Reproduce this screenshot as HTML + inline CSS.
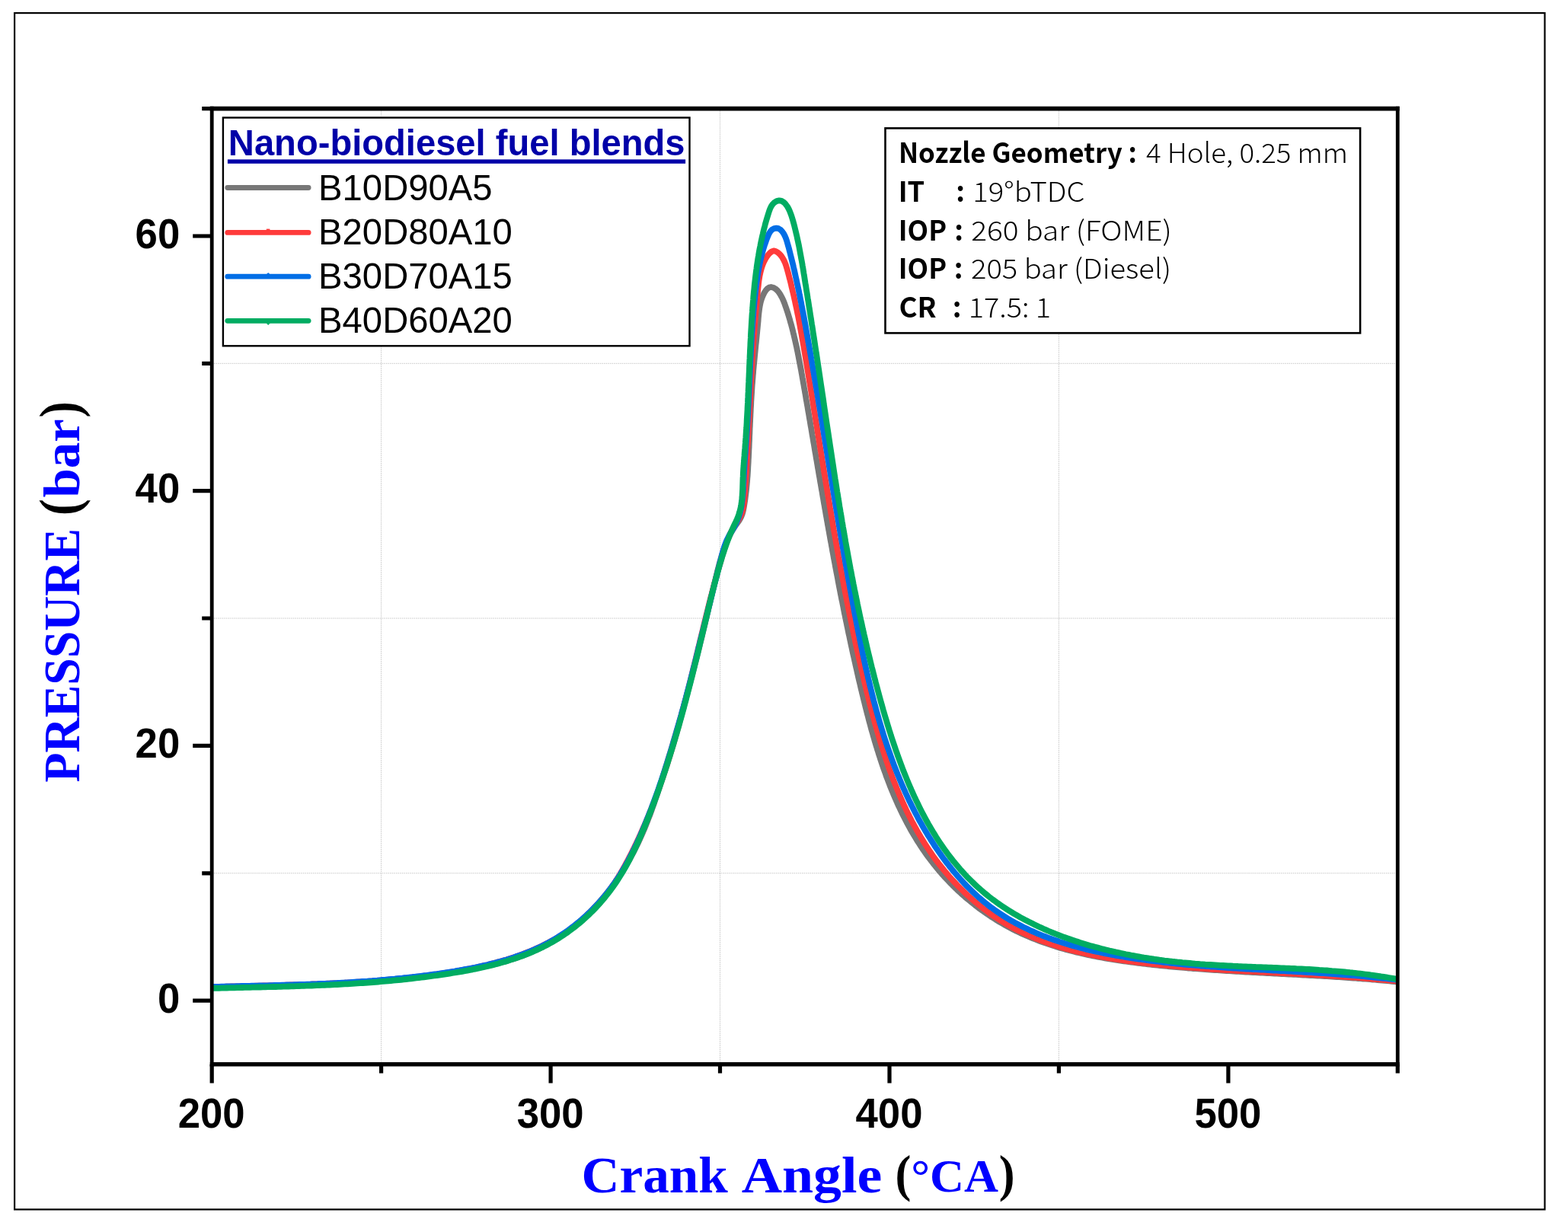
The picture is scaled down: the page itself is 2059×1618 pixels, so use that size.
<!DOCTYPE html>
<html><head><meta charset="utf-8"><title>Cylinder pressure vs crank angle</title><style>html,body{margin:0;padding:0;background:#fff}svg{display:block}</style></head><body>
<svg width="2059" height="1618" viewBox="0 0 2059 1618">
<rect width="2059" height="1618" fill="#fff"/>
<rect x="19.1" y="17.1" width="2009.4" height="1571.3" fill="none" stroke="#000" stroke-width="2.2"/>
<path d="M500.6,142.6V1397.8M945.5,142.6V1397.8M1390.4,142.6V1397.8M278.2,1146.8H1835.3M278.2,812.0H1835.3M278.2,477.3H1835.3" stroke="#c6c6c6" stroke-width="1" stroke-dasharray="1.5 1.1" fill="none"/>
<defs><clipPath id="pc"><rect x="278.2" y="142.6" width="1557.1" height="1255.1"/></clipPath></defs>
<g clip-path="url(#pc)" fill="none" stroke-width="7.8" stroke-linejoin="round" stroke-linecap="round">
<path stroke="#777777" d="M280.7,1296.8 283.9,1296.7 287.1,1296.7 290.3,1296.6 293.5,1296.6 296.7,1296.5 299.9,1296.5 303.1,1296.4 306.3,1296.4 309.5,1296.3 312.7,1296.3 315.9,1296.2 319.1,1296.2 322.3,1296.1 325.5,1296.1 328.7,1296.0 331.8,1295.9 335.0,1295.9 338.2,1295.8 341.3,1295.7 344.5,1295.7 347.7,1295.6 350.8,1295.5 354.0,1295.4 357.1,1295.4 360.3,1295.3 363.4,1295.2 366.6,1295.1 369.7,1295.0 372.9,1294.9 376.0,1294.8 379.2,1294.7 382.3,1294.6 385.4,1294.5 388.6,1294.4 391.7,1294.3 394.8,1294.2 398.0,1294.1 401.1,1294.0 404.2,1293.8 407.4,1293.7 410.5,1293.6 413.6,1293.4 416.7,1293.3 419.9,1293.2 423.0,1293.0 426.1,1292.9 429.2,1292.7 432.3,1292.6 435.5,1292.4 438.6,1292.2 441.7,1292.1 444.8,1291.9 447.9,1291.7 451.0,1291.5 454.2,1291.3 457.3,1291.1 460.4,1290.9 463.5,1290.7 466.6,1290.5 469.7,1290.3 472.8,1290.1 476.0,1289.8 479.1,1289.6 482.2,1289.4 485.3,1289.1 488.4,1288.9 491.5,1288.6 494.6,1288.4 497.8,1288.1 500.9,1287.8 504.0,1287.6 507.1,1287.3 510.2,1287.0 513.4,1286.7 516.5,1286.4 519.6,1286.1 522.7,1285.8 525.8,1285.5 529.0,1285.1 532.1,1284.8 535.2,1284.5 538.3,1284.1 541.5,1283.8 544.6,1283.4 547.7,1283.1 550.9,1282.7 554.0,1282.3 557.1,1281.9 560.3,1281.5 563.4,1281.1 566.6,1280.7 569.7,1280.3 572.9,1279.9 576.0,1279.4 579.2,1279.0 582.3,1278.6 585.5,1278.1 588.6,1277.6 591.8,1277.2 594.9,1276.7 598.1,1276.2 601.3,1275.7 604.4,1275.2 607.6,1274.7 610.8,1274.1 613.9,1273.6 617.1,1273.0 620.2,1272.5 623.4,1271.9 626.5,1271.3 629.7,1270.6 632.8,1270.0 635.9,1269.3 639.1,1268.6 642.2,1267.9 645.3,1267.2 648.4,1266.5 651.5,1265.7 654.6,1264.9 657.6,1264.1 660.7,1263.3 663.8,1262.4 666.8,1261.5 669.8,1260.6 672.8,1259.7 675.8,1258.7 678.8,1257.7 681.8,1256.6 684.8,1255.6 687.7,1254.5 690.6,1253.3 693.5,1252.2 696.4,1251.0 699.3,1249.7 702.1,1248.5 705.0,1247.2 707.8,1245.8 710.6,1244.4 713.3,1243.0 716.1,1241.5 718.8,1240.1 721.5,1238.5 724.2,1237.0 726.9,1235.4 729.5,1233.7 732.1,1232.1 734.7,1230.4 737.3,1228.6 739.9,1226.9 742.4,1225.1 744.9,1223.2 747.4,1221.4 749.9,1219.5 752.3,1217.5 754.8,1215.6 757.2,1213.6 759.6,1211.6 761.9,1209.5 764.3,1207.5 766.6,1205.4 768.9,1203.3 771.1,1201.1 773.4,1198.9 775.6,1196.7 777.8,1194.5 780.0,1192.2 782.1,1190.0 784.3,1187.6 786.4,1185.3 788.4,1183.0 790.5,1180.6 792.5,1178.2 794.6,1175.8 796.5,1173.3 798.5,1170.9 800.4,1168.4 802.4,1165.9 804.2,1163.3 806.1,1160.8 808.0,1158.2 809.8,1155.7 811.6,1153.1 813.3,1150.4 815.1,1147.8 816.8,1145.1 818.5,1142.5 820.1,1139.8 821.8,1137.1 823.4,1134.4 825.0,1131.6 826.6,1128.9 828.1,1126.1 829.6,1123.4 831.1,1120.6 832.6,1117.8 834.0,1115.0 835.4,1112.1 836.8,1109.3 838.2,1106.5 839.5,1103.6 840.8,1100.7 842.1,1097.9 843.4,1095.0 844.6,1092.1 845.9,1089.2 847.1,1086.3 848.3,1083.3 849.4,1080.4 850.6,1077.5 851.7,1074.5 852.9,1071.6 854.0,1068.6 855.1,1065.7 856.1,1062.7 857.2,1059.7 858.3,1056.7 859.3,1053.7 860.3,1050.8 861.3,1047.8 862.4,1044.8 863.4,1041.8 864.3,1038.8 865.3,1035.7 866.3,1032.7 867.2,1029.7 868.2,1026.7 869.2,1023.7 870.1,1020.7 871.0,1017.7 872.0,1014.6 872.9,1011.6 873.8,1008.6 874.8,1005.6 875.7,1002.6 876.6,999.6 877.5,996.5 878.4,993.5 879.4,990.5 880.3,987.5 881.2,984.5 882.1,981.5 883.0,978.5 883.9,975.4 884.8,972.4 885.7,969.4 886.6,966.4 887.5,963.4 888.3,960.4 889.2,957.4 890.1,954.4 891.0,951.3 891.9,948.3 892.7,945.3 893.6,942.3 894.5,939.3 895.3,936.3 896.2,933.2 897.0,930.2 897.9,927.2 898.7,924.2 899.6,921.1 900.4,918.1 901.3,915.1 902.1,912.1 902.9,909.0 903.7,906.0 904.6,903.0 905.4,900.0 906.2,896.9 907.0,893.9 907.8,890.8 908.6,887.8 909.4,884.8 910.2,881.7 911.0,878.7 911.8,875.6 912.5,872.6 913.3,869.5 914.1,866.5 914.9,863.4 915.6,860.4 916.4,857.3 917.2,854.3 917.9,851.2 918.7,848.1 919.4,845.1 920.2,842.0 920.9,838.9 921.7,835.9 922.4,832.8 923.2,829.7 923.9,826.7 924.6,823.6 925.4,820.5 926.1,817.5 926.8,814.4 927.6,811.3 928.3,808.2 929.0,805.2 929.8,802.1 930.5,799.0 931.2,795.9 932.0,792.9 932.7,789.8 933.4,786.7 934.2,783.6 934.9,780.5 935.6,777.5 936.3,774.4 937.1,771.3 937.8,768.2 938.5,765.2 939.3,762.1 940.0,759.0 940.8,755.9 941.5,752.8 942.2,749.8 943.0,746.7 943.8,743.6 944.6,740.6 945.4,737.5 946.3,734.5 947.1,731.5 948.0,728.5 949.0,725.5 950.0,722.5 951.1,719.6 952.1,716.7 953.3,713.7 954.5,710.9 955.8,708.0 957.1,705.2 958.5,702.4 960.0,699.6 961.6,696.9 963.3,694.2 965.0,691.5 966.8,688.9 968.7,686.3 970.5,683.7 972.1,681.0 973.5,678.2 974.6,675.3 975.5,672.3 976.2,669.2 976.8,666.1 977.3,662.9 977.8,659.8 978.3,656.7 978.7,653.6 979.1,650.4 979.5,647.3 979.9,644.2 980.2,641.1 980.5,637.9 980.8,634.8 981.1,631.7 981.3,628.6 981.6,625.4 981.8,622.3 982.0,619.2 982.2,616.0 982.3,612.9 982.5,609.7 982.7,606.6 982.8,603.4 983.0,600.3 983.1,597.2 983.3,594.0 983.4,590.8 983.6,587.7 983.7,584.5 983.8,581.4 984.0,578.2 984.1,575.0 984.2,571.9 984.4,568.7 984.5,565.6 984.6,562.4 984.8,559.2 984.9,556.1 985.1,552.9 985.2,549.7 985.4,546.6 985.5,543.4 985.7,540.2 985.8,537.1 986.0,533.9 986.2,530.8 986.3,527.6 986.5,524.5 986.7,521.3 986.9,518.2 987.1,515.0 987.3,511.9 987.5,508.7 987.7,505.6 988.0,502.5 988.2,499.4 988.5,496.2 988.7,493.1 989.0,490.0 989.2,486.9 989.5,483.8 989.8,480.7 990.1,477.6 990.4,474.5 990.7,471.3 991.0,468.2 991.3,465.1 991.6,462.0 991.9,458.9 992.2,455.8 992.5,452.7 992.9,449.6 993.2,446.4 993.5,443.3 993.8,440.2 994.1,437.1 994.4,433.9 994.7,430.8 995.0,427.6 995.3,424.5 995.6,421.3 995.8,418.1 996.1,414.9 996.4,411.7 996.8,408.6 997.2,405.4 997.7,402.3 998.3,399.2 999.0,396.1 999.9,393.1 1001.0,390.1 1002.3,387.2 1003.7,384.3 1005.5,381.6 1007.5,379.2 1009.8,377.6 1012.5,377.0 1015.5,377.7 1018.3,379.3 1020.8,381.5 1022.9,384.1 1024.7,386.9 1026.3,389.8 1027.8,392.7 1029.0,395.6 1030.2,398.5 1031.2,401.4 1032.2,404.3 1033.2,407.2 1034.2,410.2 1035.1,413.2 1036.0,416.1 1036.9,419.1 1037.7,422.1 1038.6,425.1 1039.4,428.1 1040.2,431.1 1041.0,434.2 1041.7,437.2 1042.5,440.3 1043.2,443.3 1043.9,446.4 1044.6,449.5 1045.3,452.5 1046.0,455.6 1046.6,458.7 1047.3,461.8 1047.9,464.9 1048.5,468.0 1049.1,471.2 1049.7,474.3 1050.3,477.4 1050.9,480.5 1051.5,483.7 1052.1,486.8 1052.6,489.9 1053.2,493.1 1053.7,496.2 1054.3,499.3 1054.8,502.5 1055.4,505.6 1055.9,508.7 1056.5,511.9 1057.0,515.0 1057.6,518.1 1058.1,521.2 1058.6,524.4 1059.2,527.5 1059.7,530.6 1060.3,533.7 1060.8,536.9 1061.3,540.0 1061.9,543.1 1062.4,546.2 1062.9,549.3 1063.5,552.5 1064.0,555.6 1064.5,558.7 1065.1,561.8 1065.6,564.9 1066.1,568.0 1066.6,571.1 1067.2,574.3 1067.7,577.4 1068.2,580.5 1068.8,583.6 1069.3,586.7 1069.8,589.8 1070.3,592.9 1070.9,596.0 1071.4,599.1 1071.9,602.2 1072.5,605.3 1073.0,608.4 1073.5,611.5 1074.0,614.6 1074.6,617.7 1075.1,620.8 1075.6,623.9 1076.2,627.0 1076.7,630.1 1077.2,633.2 1077.8,636.3 1078.3,639.4 1078.8,642.5 1079.4,645.5 1079.9,648.6 1080.4,651.7 1081.0,654.8 1081.5,657.9 1082.0,661.0 1082.6,664.1 1083.1,667.2 1083.7,670.3 1084.2,673.3 1084.7,676.4 1085.3,679.5 1085.8,682.6 1086.4,685.7 1086.9,688.8 1087.5,691.9 1088.0,694.9 1088.6,698.0 1089.1,701.1 1089.7,704.2 1090.2,707.3 1090.8,710.4 1091.4,713.4 1091.9,716.5 1092.5,719.6 1093.0,722.7 1093.6,725.8 1094.2,728.9 1094.7,731.9 1095.3,735.0 1095.9,738.1 1096.5,741.2 1097.0,744.3 1097.6,747.3 1098.2,750.4 1098.8,753.5 1099.4,756.6 1100.0,759.7 1100.5,762.7 1101.1,765.8 1101.7,768.9 1102.3,772.0 1102.9,775.1 1103.5,778.2 1104.1,781.2 1104.7,784.3 1105.3,787.4 1106.0,790.5 1106.6,793.6 1107.2,796.6 1107.8,799.7 1108.4,802.8 1109.0,805.9 1109.7,809.0 1110.3,812.1 1110.9,815.1 1111.6,818.2 1112.2,821.3 1112.9,824.4 1113.5,827.5 1114.1,830.6 1114.8,833.6 1115.5,836.7 1116.1,839.8 1116.8,842.9 1117.4,846.0 1118.1,849.1 1118.8,852.2 1119.4,855.2 1120.1,858.3 1120.8,861.4 1121.5,864.5 1122.2,867.6 1122.9,870.7 1123.6,873.8 1124.3,876.9 1125.0,880.0 1125.7,883.1 1126.4,886.2 1127.1,889.3 1127.8,892.3 1128.5,895.4 1129.3,898.5 1130.0,901.6 1130.7,904.7 1131.5,907.8 1132.2,910.9 1133.0,914.0 1133.7,917.1 1134.5,920.2 1135.3,923.3 1136.0,926.4 1136.8,929.5 1137.6,932.6 1138.4,935.7 1139.2,938.8 1140.0,941.9 1140.8,945.0 1141.6,948.0 1142.5,951.1 1143.3,954.2 1144.1,957.3 1145.0,960.3 1145.9,963.4 1146.7,966.5 1147.6,969.5 1148.5,972.6 1149.4,975.6 1150.3,978.7 1151.3,981.7 1152.2,984.8 1153.2,987.8 1154.1,990.8 1155.1,993.9 1156.1,996.9 1157.1,999.9 1158.1,1002.9 1159.1,1005.9 1160.1,1008.9 1161.2,1011.9 1162.3,1014.8 1163.3,1017.8 1164.4,1020.8 1165.5,1023.7 1166.7,1026.7 1167.8,1029.6 1168.9,1032.5 1170.1,1035.5 1171.3,1038.4 1172.5,1041.3 1173.7,1044.2 1174.9,1047.1 1176.2,1049.9 1177.5,1052.8 1178.7,1055.7 1180.0,1058.5 1181.4,1061.3 1182.7,1064.2 1184.1,1067.0 1185.4,1069.8 1186.8,1072.6 1188.2,1075.3 1189.7,1078.1 1191.1,1080.9 1192.6,1083.6 1194.1,1086.3 1195.6,1089.1 1197.1,1091.8 1198.7,1094.5 1200.3,1097.1 1201.9,1099.8 1203.5,1102.5 1205.1,1105.1 1206.8,1107.7 1208.5,1110.3 1210.2,1112.9 1211.9,1115.5 1213.7,1118.1 1215.5,1120.6 1217.3,1123.2 1219.1,1125.7 1221.0,1128.2 1222.9,1130.7 1224.8,1133.1 1226.7,1135.6 1228.7,1138.0 1230.6,1140.4 1232.6,1142.9 1234.7,1145.2 1236.7,1147.6 1238.8,1150.0 1240.9,1152.3 1243.1,1154.6 1245.3,1156.9 1247.4,1159.2 1249.7,1161.4 1251.9,1163.7 1254.2,1165.9 1256.4,1168.1 1258.8,1170.3 1261.1,1172.4 1263.4,1174.5 1265.8,1176.6 1268.2,1178.7 1270.6,1180.8 1273.1,1182.8 1275.5,1184.8 1278.0,1186.8 1280.5,1188.8 1283.0,1190.7 1285.5,1192.7 1288.1,1194.5 1290.7,1196.4 1293.3,1198.2 1295.9,1200.1 1298.5,1201.8 1301.1,1203.6 1303.8,1205.3 1306.5,1207.0 1309.1,1208.7 1311.8,1210.3 1314.6,1211.9 1317.3,1213.5 1320.0,1215.1 1322.8,1216.6 1325.6,1218.1 1328.3,1219.5 1331.1,1221.0 1334.0,1222.4 1336.8,1223.7 1339.6,1225.1 1342.4,1226.4 1345.3,1227.7 1348.2,1229.0 1351.1,1230.2 1353.9,1231.4 1356.8,1232.6 1359.8,1233.7 1362.7,1234.9 1365.6,1236.0 1368.5,1237.0 1371.5,1238.1 1374.5,1239.1 1377.4,1240.1 1380.4,1241.1 1383.4,1242.1 1386.4,1243.0 1389.4,1244.0 1392.4,1244.9 1395.4,1245.7 1398.4,1246.6 1401.5,1247.4 1404.5,1248.2 1407.6,1249.0 1410.6,1249.8 1413.7,1250.6 1416.7,1251.3 1419.8,1252.0 1422.9,1252.7 1426.0,1253.4 1429.1,1254.1 1432.1,1254.7 1435.2,1255.4 1438.3,1256.0 1441.5,1256.6 1444.6,1257.2 1447.7,1257.7 1450.8,1258.3 1453.9,1258.8 1457.1,1259.4 1460.2,1259.9 1463.3,1260.4 1466.4,1260.9 1469.6,1261.4 1472.7,1261.8 1475.9,1262.3 1479.0,1262.7 1482.2,1263.2 1485.3,1263.6 1488.4,1264.0 1491.6,1264.4 1494.7,1264.8 1497.9,1265.2 1501.0,1265.6 1504.2,1265.9 1507.3,1266.3 1510.5,1266.7 1513.6,1267.0 1516.8,1267.3 1519.9,1267.7 1523.1,1268.0 1526.2,1268.3 1529.3,1268.6 1532.5,1268.9 1535.6,1269.3 1538.8,1269.5 1541.9,1269.8 1545.1,1270.1 1548.2,1270.4 1551.3,1270.7 1554.5,1270.9 1557.6,1271.2 1560.8,1271.5 1563.9,1271.7 1567.0,1272.0 1570.2,1272.2 1573.3,1272.4 1576.4,1272.7 1579.6,1272.9 1582.7,1273.1 1585.8,1273.4 1589.0,1273.6 1592.1,1273.8 1595.3,1274.0 1598.4,1274.2 1601.5,1274.4 1604.7,1274.6 1607.8,1274.8 1610.9,1275.0 1614.1,1275.2 1617.2,1275.4 1620.3,1275.6 1623.5,1275.8 1626.6,1275.9 1629.7,1276.1 1632.9,1276.3 1636.0,1276.5 1639.1,1276.6 1642.3,1276.8 1645.4,1277.0 1648.5,1277.2 1651.7,1277.3 1654.8,1277.5 1657.9,1277.7 1661.1,1277.8 1664.2,1278.0 1667.3,1278.2 1670.5,1278.3 1673.6,1278.5 1676.7,1278.6 1679.9,1278.8 1683.0,1279.0 1686.1,1279.1 1689.3,1279.3 1692.4,1279.5 1695.5,1279.6 1698.7,1279.8 1701.8,1279.9 1705.0,1280.1 1708.1,1280.3 1711.2,1280.5 1714.4,1280.6 1717.5,1280.8 1720.6,1281.0 1723.8,1281.1 1726.9,1281.3 1730.1,1281.5 1733.2,1281.7 1736.3,1281.9 1739.5,1282.0 1742.6,1282.2 1745.8,1282.4 1748.9,1282.6 1752.0,1282.8 1755.2,1283.0 1758.3,1283.2 1761.5,1283.4 1764.6,1283.6 1767.8,1283.8 1770.9,1284.1 1774.1,1284.3 1777.2,1284.5 1780.4,1284.7 1783.5,1285.0 1786.6,1285.2 1789.8,1285.5 1793.0,1285.7 1796.1,1285.9 1799.3,1286.2 1802.4,1286.5 1805.6,1286.7 1808.7,1287.0 1811.9,1287.3 1815.0,1287.6 1818.2,1287.9 1821.3,1288.1 1824.5,1288.4 1827.7,1288.8 1830.8,1289.1 1834.0,1289.4 1837.1,1289.7"/>
<path stroke="#FF3B3B" d="M281.0,1296.2 284.3,1296.1 287.5,1296.0 290.7,1295.9 294.0,1295.8 297.2,1295.7 300.5,1295.6 303.7,1295.5 307.0,1295.5 310.2,1295.4 313.4,1295.3 316.7,1295.2 319.9,1295.1 323.2,1295.0 326.4,1295.0 329.7,1294.9 332.9,1294.8 336.2,1294.7 339.4,1294.6 342.7,1294.6 345.9,1294.5 349.2,1294.4 352.4,1294.3 355.7,1294.2 358.9,1294.1 362.2,1294.0 365.4,1294.0 368.7,1293.9 371.9,1293.8 375.2,1293.7 378.4,1293.6 381.7,1293.5 384.9,1293.4 388.2,1293.3 391.4,1293.2 394.7,1293.1 397.9,1293.0 401.2,1292.9 404.4,1292.8 407.7,1292.7 410.9,1292.5 414.2,1292.4 417.4,1292.3 420.6,1292.2 423.9,1292.0 427.1,1291.9 430.4,1291.7 433.6,1291.6 436.9,1291.4 440.1,1291.3 443.4,1291.1 446.6,1291.0 449.9,1290.8 453.1,1290.6 456.4,1290.5 459.6,1290.3 462.8,1290.1 466.1,1289.9 469.3,1289.7 472.6,1289.5 475.8,1289.3 479.1,1289.1 482.3,1288.8 485.5,1288.6 488.8,1288.4 492.0,1288.1 495.3,1287.9 498.5,1287.6 501.7,1287.4 505.0,1287.1 508.2,1286.8 511.4,1286.5 514.7,1286.2 517.9,1285.9 521.1,1285.6 524.4,1285.3 527.6,1285.0 530.8,1284.6 534.1,1284.3 537.3,1284.0 540.5,1283.6 543.7,1283.2 547.0,1282.9 550.2,1282.5 553.4,1282.1 556.6,1281.7 559.9,1281.3 563.1,1280.8 566.3,1280.4 569.5,1280.0 572.7,1279.5 575.9,1279.1 579.2,1278.6 582.4,1278.1 585.6,1277.6 588.8,1277.1 592.0,1276.6 595.2,1276.1 598.4,1275.5 601.6,1275.0 604.8,1274.4 608.0,1273.8 611.2,1273.2 614.4,1272.6 617.6,1272.0 620.8,1271.4 624.0,1270.7 627.2,1270.0 630.3,1269.3 633.5,1268.6 636.7,1267.9 639.8,1267.2 643.0,1266.4 646.1,1265.6 649.3,1264.8 652.4,1263.9 655.5,1263.1 658.6,1262.2 661.7,1261.3 664.8,1260.4 667.9,1259.4 671.0,1258.4 674.1,1257.4 677.2,1256.4 680.2,1255.3 683.3,1254.2 686.3,1253.1 689.3,1251.9 692.4,1250.7 695.4,1249.5 698.4,1248.3 701.3,1247.0 704.3,1245.7 707.3,1244.3 710.2,1242.9 713.2,1241.5 716.1,1240.0 719.0,1238.6 721.9,1237.0 724.7,1235.5 727.6,1233.9 730.4,1232.3 733.2,1230.6 736.0,1228.9 738.8,1227.2 741.5,1225.4 744.2,1223.6 746.9,1221.8 749.6,1219.9 752.2,1218.0 754.8,1216.1 757.4,1214.1 760.0,1212.1 762.5,1210.0 765.0,1208.0 767.4,1205.8 769.8,1203.7 772.2,1201.5 774.6,1199.3 776.9,1197.0 779.2,1194.7 781.4,1192.4 783.6,1190.0 785.8,1187.6 787.9,1185.2 790.0,1182.7 792.0,1180.2 794.0,1177.7 796.0,1175.2 797.9,1172.6 799.8,1170.0 801.7,1167.3 803.6,1164.7 805.4,1162.0 807.2,1159.3 808.9,1156.5 810.7,1153.8 812.4,1151.0 814.1,1148.2 815.7,1145.4 817.4,1142.6 819.0,1139.8 820.6,1136.9 822.1,1134.0 823.7,1131.2 825.2,1128.3 826.7,1125.4 828.2,1122.5 829.7,1119.6 831.1,1116.6 832.6,1113.7 834.0,1110.8 835.4,1107.9 836.8,1104.9 838.2,1102.0 839.5,1099.0 840.9,1096.1 842.2,1093.1 843.5,1090.1 844.8,1087.2 846.1,1084.2 847.4,1081.2 848.7,1078.2 849.9,1075.2 851.2,1072.2 852.4,1069.2 853.6,1066.2 854.8,1063.2 856.0,1060.2 857.2,1057.2 858.4,1054.1 859.5,1051.1 860.7,1048.1 861.8,1045.1 862.9,1042.0 864.0,1039.0 865.1,1035.9 866.2,1032.9 867.3,1029.8 868.4,1026.8 869.4,1023.7 870.5,1020.6 871.5,1017.6 872.5,1014.5 873.6,1011.4 874.6,1008.3 875.6,1005.2 876.6,1002.2 877.5,999.1 878.5,996.0 879.5,992.9 880.4,989.8 881.4,986.7 882.3,983.6 883.3,980.5 884.2,977.4 885.1,974.3 886.0,971.1 886.9,968.0 887.8,964.9 888.7,961.8 889.6,958.7 890.5,955.5 891.3,952.4 892.2,949.3 893.0,946.1 893.9,943.0 894.7,939.9 895.6,936.7 896.4,933.6 897.3,930.4 898.1,927.3 898.9,924.2 899.7,921.0 900.5,917.9 901.3,914.7 902.2,911.6 903.0,908.4 903.8,905.3 904.5,902.1 905.3,898.9 906.1,895.8 906.9,892.6 907.7,889.5 908.5,886.3 909.2,883.2 910.0,880.0 910.8,876.8 911.6,873.7 912.3,870.5 913.1,867.4 913.9,864.2 914.6,861.0 915.4,857.9 916.2,854.7 916.9,851.5 917.7,848.4 918.5,845.2 919.2,842.0 920.0,838.9 920.8,835.7 921.5,832.6 922.3,829.4 923.1,826.2 923.8,823.1 924.6,819.9 925.4,816.8 926.1,813.6 926.9,810.4 927.7,807.3 928.5,804.1 929.3,801.0 930.1,797.8 930.8,794.7 931.6,791.5 932.4,788.4 933.2,785.2 934.1,782.1 934.9,778.9 935.7,775.8 936.5,772.7 937.3,769.5 938.2,766.4 939.0,763.3 939.9,760.1 940.7,757.0 941.6,753.9 942.4,750.7 943.3,747.6 944.2,744.5 945.1,741.4 946.0,738.3 946.9,735.2 947.8,732.1 948.7,729.0 949.7,725.9 950.6,722.8 951.6,719.7 952.6,716.6 953.7,713.6 954.8,710.5 956.0,707.5 957.3,704.6 958.6,701.6 960.0,698.7 961.5,695.8 963.1,693.0 964.8,690.2 966.6,687.4 968.4,684.7 970.1,681.9 971.7,679.1 973.1,676.2 974.2,673.2 975.1,670.1 975.9,667.0 976.4,663.8 976.9,660.5 977.2,657.3 977.5,654.0 977.8,650.7 978.0,647.4 978.2,644.2 978.4,640.9 978.7,637.6 978.9,634.3 979.1,631.0 979.3,627.8 979.5,624.5 979.7,621.3 979.9,618.0 980.1,614.7 980.3,611.5 980.5,608.2 980.6,605.0 980.8,601.7 981.0,598.5 981.2,595.2 981.4,592.0 981.5,588.8 981.7,585.5 981.9,582.3 982.0,579.1 982.2,575.8 982.4,572.6 982.5,569.4 982.7,566.1 982.9,562.9 983.0,559.7 983.2,556.4 983.4,553.2 983.5,550.0 983.7,546.8 983.9,543.5 984.0,540.3 984.2,537.1 984.4,533.9 984.5,530.6 984.7,527.4 984.9,524.2 985.0,521.0 985.2,517.7 985.4,514.5 985.5,511.3 985.7,508.1 985.9,504.8 986.1,501.6 986.2,498.4 986.4,495.1 986.6,491.9 986.8,488.7 987.0,485.4 987.2,482.2 987.4,479.0 987.6,475.7 987.8,472.5 988.0,469.2 988.2,466.0 988.4,462.8 988.6,459.5 988.8,456.3 989.1,453.0 989.3,449.8 989.5,446.5 989.8,443.2 990.0,440.0 990.3,436.7 990.5,433.5 990.8,430.2 991.0,427.0 991.3,423.7 991.6,420.4 991.8,417.2 992.1,413.9 992.4,410.7 992.7,407.4 993.0,404.2 993.3,400.9 993.6,397.7 993.9,394.5 994.2,391.2 994.5,388.0 994.8,384.8 995.1,381.6 995.4,378.4 995.8,375.1 996.1,371.9 996.5,368.7 997.0,365.6 997.5,362.4 998.2,359.2 998.9,356.1 999.8,352.9 1000.8,349.8 1001.9,346.7 1003.2,343.7 1004.8,340.6 1006.5,337.7 1008.5,334.9 1010.8,332.4 1013.3,330.4 1016.0,329.4 1018.7,330.0 1021.4,331.6 1023.7,333.7 1025.8,336.0 1027.6,338.7 1029.2,341.5 1030.6,344.5 1031.8,347.7 1032.8,350.9 1033.8,354.2 1034.7,357.6 1035.6,360.9 1036.4,364.2 1037.3,367.4 1038.1,370.7 1038.9,373.9 1039.6,377.1 1040.4,380.3 1041.1,383.4 1041.9,386.6 1042.6,389.7 1043.3,392.8 1044.0,395.9 1044.6,399.0 1045.3,402.1 1046.0,405.2 1046.6,408.3 1047.2,411.3 1047.9,414.4 1048.5,417.5 1049.1,420.6 1049.7,423.7 1050.3,426.8 1050.8,429.9 1051.4,433.0 1052.0,436.2 1052.6,439.3 1053.1,442.5 1053.7,445.7 1054.3,448.9 1054.8,452.1 1055.4,455.3 1055.9,458.5 1056.5,461.7 1057.0,465.0 1057.6,468.2 1058.1,471.5 1058.7,474.7 1059.2,478.0 1059.7,481.2 1060.3,484.5 1060.8,487.7 1061.3,490.9 1061.9,494.2 1062.4,497.4 1062.9,500.7 1063.5,503.9 1064.0,507.1 1064.5,510.4 1065.1,513.6 1065.6,516.8 1066.1,520.0 1066.6,523.3 1067.2,526.5 1067.7,529.7 1068.2,533.0 1068.7,536.2 1069.2,539.4 1069.8,542.6 1070.3,545.8 1070.8,549.1 1071.3,552.3 1071.8,555.5 1072.4,558.7 1072.9,561.9 1073.4,565.1 1073.9,568.3 1074.4,571.5 1075.0,574.8 1075.5,578.0 1076.0,581.2 1076.5,584.4 1077.0,587.6 1077.5,590.8 1078.1,594.0 1078.6,597.2 1079.1,600.4 1079.6,603.6 1080.1,606.8 1080.7,610.0 1081.2,613.2 1081.7,616.4 1082.2,619.6 1082.7,622.8 1083.3,626.0 1083.8,629.2 1084.3,632.4 1084.8,635.6 1085.4,638.7 1085.9,641.9 1086.4,645.1 1086.9,648.3 1087.5,651.5 1088.0,654.7 1088.5,657.9 1089.1,661.1 1089.6,664.3 1090.1,667.4 1090.7,670.6 1091.2,673.8 1091.8,677.0 1092.3,680.2 1092.9,683.4 1093.4,686.6 1093.9,689.7 1094.5,692.9 1095.0,696.1 1095.6,699.3 1096.2,702.5 1096.7,705.6 1097.3,708.8 1097.8,712.0 1098.4,715.2 1099.0,718.4 1099.5,721.5 1100.1,724.7 1100.7,727.9 1101.2,731.1 1101.8,734.3 1102.4,737.4 1103.0,740.6 1103.6,743.8 1104.1,747.0 1104.7,750.1 1105.3,753.3 1105.9,756.5 1106.5,759.7 1107.1,762.9 1107.7,766.0 1108.3,769.2 1108.9,772.4 1109.5,775.6 1110.1,778.7 1110.8,781.9 1111.4,785.1 1112.0,788.3 1112.6,791.4 1113.3,794.6 1113.9,797.8 1114.5,801.0 1115.2,804.2 1115.8,807.3 1116.5,810.5 1117.1,813.7 1117.8,816.9 1118.4,820.1 1119.1,823.2 1119.8,826.4 1120.4,829.6 1121.1,832.8 1121.8,835.9 1122.5,839.1 1123.1,842.3 1123.8,845.5 1124.5,848.7 1125.2,851.9 1125.9,855.0 1126.6,858.2 1127.3,861.4 1128.0,864.6 1128.8,867.8 1129.5,870.9 1130.2,874.1 1130.9,877.3 1131.7,880.5 1132.4,883.7 1133.2,886.9 1133.9,890.1 1134.7,893.3 1135.4,896.4 1136.2,899.6 1137.0,902.8 1137.7,906.0 1138.5,909.2 1139.3,912.4 1140.1,915.6 1140.9,918.8 1141.7,922.0 1142.5,925.2 1143.3,928.3 1144.2,931.5 1145.0,934.7 1145.8,937.9 1146.7,941.1 1147.6,944.2 1148.4,947.4 1149.3,950.6 1150.2,953.8 1151.1,956.9 1152.0,960.1 1152.9,963.3 1153.8,966.4 1154.7,969.6 1155.7,972.7 1156.6,975.9 1157.6,979.0 1158.6,982.1 1159.6,985.3 1160.6,988.4 1161.6,991.5 1162.6,994.6 1163.7,997.7 1164.7,1000.8 1165.8,1003.9 1166.8,1007.0 1167.9,1010.1 1169.0,1013.1 1170.2,1016.2 1171.3,1019.3 1172.4,1022.3 1173.6,1025.4 1174.8,1028.4 1176.0,1031.4 1177.2,1034.4 1178.4,1037.4 1179.7,1040.4 1180.9,1043.4 1182.2,1046.4 1183.5,1049.4 1184.8,1052.3 1186.1,1055.3 1187.5,1058.2 1188.9,1061.1 1190.2,1064.0 1191.6,1067.0 1193.1,1069.8 1194.5,1072.7 1196.0,1075.6 1197.4,1078.5 1198.9,1081.3 1200.5,1084.1 1202.0,1087.0 1203.6,1089.8 1205.1,1092.6 1206.7,1095.3 1208.4,1098.1 1210.0,1100.9 1211.7,1103.6 1213.4,1106.3 1215.1,1109.0 1216.8,1111.7 1218.6,1114.4 1220.4,1117.1 1222.2,1119.7 1224.0,1122.4 1225.8,1125.0 1227.7,1127.6 1229.6,1130.2 1231.6,1132.7 1233.5,1135.3 1235.5,1137.8 1237.5,1140.3 1239.5,1142.8 1241.6,1145.3 1243.7,1147.8 1245.8,1150.2 1247.9,1152.7 1250.1,1155.1 1252.3,1157.5 1254.5,1159.8 1256.7,1162.2 1259.0,1164.5 1261.3,1166.8 1263.6,1169.1 1266.0,1171.4 1268.3,1173.6 1270.7,1175.9 1273.2,1178.1 1275.6,1180.2 1278.1,1182.4 1280.6,1184.5 1283.1,1186.6 1285.6,1188.7 1288.2,1190.7 1290.7,1192.7 1293.3,1194.7 1296.0,1196.7 1298.6,1198.6 1301.3,1200.5 1303.9,1202.4 1306.6,1204.2 1309.4,1206.0 1312.1,1207.8 1314.8,1209.5 1317.6,1211.2 1320.4,1212.9 1323.2,1214.5 1326.0,1216.1 1328.8,1217.7 1331.7,1219.2 1334.6,1220.7 1337.4,1222.2 1340.3,1223.6 1343.2,1225.0 1346.2,1226.4 1349.1,1227.7 1352.0,1229.0 1355.0,1230.3 1358.0,1231.5 1361.0,1232.8 1364.0,1234.0 1367.0,1235.1 1370.0,1236.3 1373.0,1237.4 1376.1,1238.4 1379.1,1239.5 1382.2,1240.5 1385.3,1241.5 1388.3,1242.5 1391.4,1243.5 1394.5,1244.4 1397.7,1245.3 1400.8,1246.2 1403.9,1247.0 1407.1,1247.9 1410.2,1248.7 1413.4,1249.5 1416.5,1250.3 1419.7,1251.0 1422.9,1251.8 1426.1,1252.5 1429.2,1253.2 1432.4,1253.8 1435.6,1254.5 1438.8,1255.1 1442.1,1255.8 1445.3,1256.4 1448.5,1257.0 1451.7,1257.5 1454.9,1258.1 1458.2,1258.6 1461.4,1259.2 1464.7,1259.7 1467.9,1260.2 1471.1,1260.7 1474.4,1261.2 1477.6,1261.6 1480.9,1262.1 1484.1,1262.5 1487.4,1262.9 1490.6,1263.4 1493.9,1263.8 1497.1,1264.2 1500.4,1264.6 1503.6,1264.9 1506.9,1265.3 1510.2,1265.7 1513.4,1266.0 1516.7,1266.4 1519.9,1266.7 1523.1,1267.1 1526.4,1267.4 1529.6,1267.7 1532.9,1268.0 1536.1,1268.3 1539.4,1268.6 1542.6,1268.9 1545.8,1269.2 1549.1,1269.5 1552.3,1269.8 1555.6,1270.1 1558.8,1270.3 1562.0,1270.6 1565.3,1270.9 1568.5,1271.1 1571.7,1271.4 1575.0,1271.6 1578.2,1271.8 1581.4,1272.1 1584.7,1272.3 1587.9,1272.5 1591.1,1272.8 1594.4,1273.0 1597.6,1273.2 1600.8,1273.4 1604.0,1273.6 1607.3,1273.8 1610.5,1274.0 1613.7,1274.2 1616.9,1274.4 1620.2,1274.6 1623.4,1274.8 1626.6,1275.0 1629.9,1275.2 1633.1,1275.3 1636.3,1275.5 1639.5,1275.7 1642.8,1275.9 1646.0,1276.1 1649.2,1276.2 1652.4,1276.4 1655.7,1276.6 1658.9,1276.7 1662.1,1276.9 1665.3,1277.1 1668.6,1277.3 1671.8,1277.4 1675.0,1277.6 1678.2,1277.8 1681.5,1277.9 1684.7,1278.1 1687.9,1278.3 1691.2,1278.4 1694.4,1278.6 1697.6,1278.8 1700.8,1278.9 1704.1,1279.1 1707.3,1279.3 1710.5,1279.5 1713.8,1279.6 1717.0,1279.8 1720.2,1280.0 1723.5,1280.2 1726.7,1280.4 1729.9,1280.6 1733.2,1280.7 1736.4,1280.9 1739.6,1281.1 1742.9,1281.3 1746.1,1281.5 1749.3,1281.7 1752.6,1281.9 1755.8,1282.1 1759.1,1282.3 1762.3,1282.6 1765.6,1282.8 1768.8,1283.0 1772.0,1283.2 1775.3,1283.5 1778.5,1283.7 1781.8,1283.9 1785.0,1284.2 1788.3,1284.4 1791.5,1284.7 1794.8,1285.0 1798.0,1285.2 1801.3,1285.5 1804.6,1285.8 1807.8,1286.0 1811.1,1286.3 1814.3,1286.6 1817.6,1286.9 1820.9,1287.2 1824.1,1287.5 1827.4,1287.9 1830.7,1288.2 1833.9,1288.5 1837.2,1288.9"/>
<path stroke="#006EE6" d="M280.8,1295.9 284.2,1295.8 287.5,1295.8 290.8,1295.7 294.2,1295.6 297.5,1295.5 300.8,1295.4 304.2,1295.4 307.5,1295.3 310.8,1295.2 314.1,1295.1 317.4,1295.0 320.8,1295.0 324.1,1294.9 327.4,1294.8 330.7,1294.7 334.0,1294.7 337.3,1294.6 340.6,1294.5 344.0,1294.4 347.3,1294.3 350.6,1294.3 353.9,1294.2 357.2,1294.1 360.5,1294.0 363.8,1293.9 367.1,1293.8 370.4,1293.7 373.7,1293.6 377.0,1293.5 380.3,1293.4 383.6,1293.3 386.9,1293.2 390.2,1293.1 393.5,1293.0 396.8,1292.9 400.1,1292.8 403.4,1292.7 406.6,1292.6 409.9,1292.4 413.2,1292.3 416.5,1292.2 419.8,1292.0 423.1,1291.9 426.4,1291.8 429.7,1291.6 433.0,1291.5 436.2,1291.3 439.5,1291.1 442.8,1291.0 446.1,1290.8 449.4,1290.6 452.7,1290.5 455.9,1290.3 459.2,1290.1 462.5,1289.9 465.8,1289.7 469.1,1289.5 472.4,1289.3 475.6,1289.0 478.9,1288.8 482.2,1288.6 485.5,1288.3 488.8,1288.1 492.0,1287.8 495.3,1287.6 498.6,1287.3 501.9,1287.0 505.2,1286.8 508.4,1286.5 511.7,1286.2 515.0,1285.9 518.3,1285.6 521.6,1285.2 524.8,1284.9 528.1,1284.6 531.4,1284.2 534.7,1283.9 538.0,1283.5 541.2,1283.2 544.5,1282.8 547.8,1282.4 551.1,1282.0 554.4,1281.6 557.7,1281.2 560.9,1280.8 564.2,1280.3 567.5,1279.9 570.8,1279.4 574.1,1279.0 577.3,1278.5 580.6,1278.0 583.9,1277.5 587.2,1277.0 590.5,1276.5 593.8,1276.0 597.1,1275.5 600.3,1274.9 603.6,1274.4 606.9,1273.8 610.2,1273.2 613.5,1272.6 616.8,1272.0 620.0,1271.4 623.3,1270.7 626.6,1270.0 629.8,1269.3 633.1,1268.6 636.3,1267.9 639.5,1267.2 642.8,1266.4 646.0,1265.6 649.2,1264.8 652.4,1263.9 655.6,1263.1 658.8,1262.2 662.0,1261.3 665.2,1260.4 668.3,1259.4 671.5,1258.4 674.6,1257.4 677.7,1256.3 680.8,1255.2 683.9,1254.1 687.0,1253.0 690.1,1251.8 693.1,1250.6 696.2,1249.4 699.2,1248.1 702.2,1246.8 705.2,1245.4 708.2,1244.1 711.1,1242.7 714.0,1241.2 716.9,1239.7 719.8,1238.2 722.7,1236.6 725.6,1235.0 728.4,1233.3 731.2,1231.7 734.0,1229.9 736.8,1228.1 739.5,1226.3 742.2,1224.5 744.9,1222.6 747.6,1220.7 750.2,1218.7 752.9,1216.7 755.5,1214.7 758.0,1212.6 760.6,1210.5 763.1,1208.4 765.6,1206.2 768.1,1204.0 770.5,1201.8 772.9,1199.5 775.3,1197.2 777.6,1194.9 779.9,1192.6 782.2,1190.2 784.5,1187.8 786.7,1185.3 788.9,1182.8 791.1,1180.3 793.2,1177.8 795.3,1175.3 797.4,1172.7 799.4,1170.1 801.4,1167.4 803.4,1164.8 805.3,1162.1 807.2,1159.4 809.0,1156.7 810.9,1153.9 812.7,1151.2 814.4,1148.4 816.1,1145.6 817.8,1142.8 819.5,1139.9 821.2,1137.1 822.8,1134.2 824.4,1131.3 825.9,1128.4 827.4,1125.4 829.0,1122.5 830.4,1119.6 831.9,1116.6 833.3,1113.6 834.8,1110.6 836.2,1107.6 837.5,1104.6 838.9,1101.6 840.3,1098.6 841.6,1095.5 842.9,1092.5 844.2,1089.4 845.5,1086.4 846.7,1083.3 848.0,1080.2 849.2,1077.2 850.5,1074.1 851.7,1071.0 852.9,1067.9 854.1,1064.9 855.3,1061.8 856.4,1058.7 857.6,1055.6 858.8,1052.5 859.9,1049.4 861.0,1046.3 862.2,1043.2 863.3,1040.1 864.4,1037.0 865.5,1033.8 866.5,1030.7 867.6,1027.6 868.7,1024.5 869.7,1021.4 870.8,1018.2 871.8,1015.1 872.9,1012.0 873.9,1008.8 874.9,1005.7 875.9,1002.6 876.9,999.4 877.9,996.3 878.9,993.1 879.8,990.0 880.8,986.8 881.8,983.7 882.7,980.5 883.7,977.3 884.6,974.2 885.6,971.0 886.5,967.9 887.4,964.7 888.3,961.5 889.2,958.4 890.1,955.2 891.0,952.0 891.9,948.8 892.8,945.7 893.7,942.5 894.6,939.3 895.4,936.1 896.3,932.9 897.2,929.8 898.0,926.6 898.9,923.4 899.7,920.2 900.6,917.0 901.4,913.8 902.2,910.6 903.1,907.4 903.9,904.2 904.7,901.1 905.6,897.9 906.4,894.7 907.2,891.5 908.0,888.3 908.8,885.1 909.6,881.9 910.4,878.7 911.2,875.5 912.1,872.3 912.9,869.1 913.7,865.9 914.5,862.6 915.3,859.4 916.1,856.2 916.8,853.0 917.6,849.8 918.4,846.6 919.2,843.4 920.0,840.2 920.8,837.0 921.6,833.8 922.4,830.6 923.2,827.4 924.0,824.2 924.8,821.0 925.6,817.8 926.4,814.6 927.2,811.4 928.0,808.1 928.8,804.9 929.6,801.7 930.4,798.5 931.2,795.3 932.0,792.1 932.8,788.9 933.6,785.7 934.4,782.5 935.2,779.3 936.0,776.1 936.8,772.9 937.6,769.7 938.4,766.5 939.3,763.3 940.1,760.0 940.9,756.8 941.7,753.6 942.5,750.4 943.3,747.2 944.2,744.0 945.0,740.8 945.8,737.6 946.6,734.4 947.5,731.2 948.3,727.9 949.2,724.7 950.1,721.6 951.0,718.4 952.1,715.3 953.3,712.2 954.5,709.2 956.0,706.3 957.5,703.4 959.1,700.5 960.8,697.7 962.5,694.8 964.2,692.0 965.7,689.0 967.1,686.0 968.4,683.0 969.6,679.9 970.7,676.7 971.6,673.6 972.4,670.4 973.1,667.2 973.7,663.9 974.2,660.7 974.6,657.4 975.0,654.1 975.3,650.8 975.6,647.5 975.8,644.2 976.0,640.9 976.1,637.5 976.3,634.2 976.5,630.9 976.6,627.6 976.8,624.3 977.0,621.0 977.2,617.7 977.4,614.4 977.6,611.1 977.8,607.8 978.0,604.5 978.3,601.2 978.5,598.0 978.8,594.7 979.0,591.4 979.2,588.1 979.5,584.9 979.7,581.6 980.0,578.3 980.2,575.0 980.4,571.8 980.6,568.5 980.9,565.2 981.1,561.9 981.3,558.6 981.5,555.3 981.7,552.0 981.8,548.8 982.0,545.5 982.2,542.2 982.4,538.9 982.5,535.6 982.7,532.3 982.9,528.9 983.0,525.6 983.2,522.3 983.3,519.0 983.5,515.7 983.6,512.4 983.8,509.1 983.9,505.8 984.1,502.5 984.2,499.2 984.4,495.8 984.5,492.5 984.7,489.2 984.8,485.9 985.0,482.6 985.1,479.3 985.3,476.0 985.4,472.6 985.6,469.3 985.8,466.0 985.9,462.7 986.1,459.4 986.3,456.1 986.5,452.8 986.6,449.5 986.8,446.2 987.0,442.9 987.2,439.6 987.5,436.3 987.7,433.0 987.9,429.7 988.1,426.4 988.4,423.1 988.6,419.8 988.9,416.5 989.2,413.2 989.4,410.0 989.7,406.7 990.0,403.4 990.3,400.1 990.6,396.9 991.0,393.6 991.3,390.3 991.7,387.1 992.0,383.8 992.4,380.6 992.8,377.3 993.2,374.1 993.6,370.9 994.1,367.6 994.5,364.4 995.0,361.2 995.5,357.9 996.1,354.7 996.6,351.5 997.3,348.3 997.9,345.1 998.6,341.9 999.4,338.7 1000.2,335.4 1001.0,332.2 1001.9,329.0 1002.8,325.8 1003.8,322.6 1004.9,319.4 1006.0,316.2 1007.2,313.0 1008.5,309.8 1009.9,306.7 1011.6,303.9 1013.7,301.7 1016.4,300.2 1019.4,299.7 1022.4,300.2 1025.0,301.8 1027.2,304.1 1029.2,307.0 1030.8,310.1 1032.1,313.3 1033.2,316.5 1034.1,319.7 1035.0,322.9 1035.9,326.0 1036.7,329.2 1037.5,332.4 1038.3,335.6 1039.1,338.8 1039.9,342.0 1040.7,345.2 1041.5,348.4 1042.2,351.6 1043.0,354.9 1043.7,358.1 1044.4,361.3 1045.1,364.5 1045.8,367.7 1046.5,371.0 1047.2,374.2 1047.9,377.4 1048.6,380.6 1049.3,383.9 1049.9,387.1 1050.6,390.3 1051.2,393.6 1051.9,396.8 1052.5,400.1 1053.1,403.3 1053.7,406.6 1054.4,409.8 1055.0,413.0 1055.6,416.3 1056.2,419.5 1056.8,422.8 1057.4,426.0 1058.0,429.3 1058.5,432.5 1059.1,435.8 1059.7,439.0 1060.3,442.3 1060.9,445.5 1061.4,448.8 1062.0,452.0 1062.6,455.3 1063.2,458.6 1063.7,461.8 1064.3,465.1 1064.9,468.3 1065.4,471.6 1066.0,474.8 1066.5,478.1 1067.1,481.3 1067.7,484.6 1068.2,487.8 1068.8,491.1 1069.3,494.3 1069.9,497.6 1070.4,500.8 1071.0,504.1 1071.5,507.3 1072.1,510.6 1072.6,513.9 1073.2,517.1 1073.7,520.4 1074.3,523.6 1074.8,526.9 1075.3,530.1 1075.9,533.4 1076.4,536.6 1077.0,539.9 1077.5,543.1 1078.0,546.4 1078.6,549.6 1079.1,552.9 1079.7,556.2 1080.2,559.4 1080.7,562.7 1081.3,565.9 1081.8,569.2 1082.3,572.4 1082.9,575.7 1083.4,578.9 1083.9,582.2 1084.5,585.4 1085.0,588.7 1085.5,592.0 1086.1,595.2 1086.6,598.5 1087.1,601.7 1087.7,605.0 1088.2,608.2 1088.7,611.5 1089.3,614.7 1089.8,618.0 1090.3,621.2 1090.9,624.5 1091.4,627.8 1092.0,631.0 1092.5,634.3 1093.0,637.5 1093.6,640.8 1094.1,644.0 1094.6,647.3 1095.2,650.5 1095.7,653.8 1096.3,657.1 1096.8,660.3 1097.3,663.6 1097.9,666.8 1098.4,670.1 1099.0,673.3 1099.5,676.6 1100.1,679.8 1100.6,683.1 1101.2,686.3 1101.7,689.6 1102.3,692.9 1102.8,696.1 1103.4,699.4 1103.9,702.6 1104.5,705.9 1105.0,709.1 1105.6,712.4 1106.2,715.6 1106.7,718.9 1107.3,722.1 1107.9,725.4 1108.4,728.7 1109.0,731.9 1109.6,735.2 1110.1,738.4 1110.7,741.7 1111.3,744.9 1111.9,748.2 1112.5,751.4 1113.0,754.7 1113.6,757.9 1114.2,761.2 1114.8,764.4 1115.4,767.7 1116.0,771.0 1116.6,774.2 1117.2,777.5 1117.8,780.7 1118.4,784.0 1119.0,787.2 1119.6,790.5 1120.2,793.7 1120.8,797.0 1121.4,800.2 1122.0,803.5 1122.6,806.7 1123.3,810.0 1123.9,813.2 1124.5,816.5 1125.1,819.8 1125.8,823.0 1126.4,826.3 1127.1,829.5 1127.7,832.8 1128.4,836.0 1129.0,839.3 1129.7,842.5 1130.3,845.8 1131.0,849.0 1131.7,852.2 1132.3,855.5 1133.0,858.7 1133.7,862.0 1134.4,865.2 1135.1,868.5 1135.8,871.7 1136.5,874.9 1137.2,878.2 1138.0,881.4 1138.7,884.6 1139.5,887.8 1140.2,891.1 1141.0,894.3 1141.7,897.5 1142.5,900.7 1143.3,903.9 1144.1,907.2 1144.9,910.4 1145.7,913.6 1146.5,916.8 1147.3,920.0 1148.2,923.2 1149.0,926.4 1149.9,929.6 1150.7,932.7 1151.6,935.9 1152.5,939.1 1153.4,942.3 1154.3,945.5 1155.2,948.6 1156.2,951.8 1157.1,955.0 1158.1,958.1 1159.0,961.3 1160.0,964.4 1161.0,967.6 1162.0,970.7 1163.0,973.8 1164.1,977.0 1165.1,980.1 1166.2,983.2 1167.3,986.3 1168.4,989.4 1169.5,992.5 1170.6,995.6 1171.7,998.7 1172.9,1001.8 1174.0,1004.9 1175.2,1008.0 1176.4,1011.0 1177.6,1014.1 1178.8,1017.2 1180.1,1020.2 1181.3,1023.3 1182.6,1026.3 1183.9,1029.4 1185.2,1032.4 1186.5,1035.4 1187.9,1038.4 1189.2,1041.4 1190.6,1044.4 1192.0,1047.4 1193.4,1050.4 1194.9,1053.4 1196.3,1056.4 1197.8,1059.3 1199.3,1062.3 1200.8,1065.3 1202.3,1068.2 1203.9,1071.1 1205.4,1074.1 1207.0,1077.0 1208.6,1079.9 1210.3,1082.8 1211.9,1085.7 1213.6,1088.6 1215.3,1091.5 1217.0,1094.3 1218.7,1097.2 1220.5,1100.0 1222.3,1102.9 1224.1,1105.7 1225.9,1108.5 1227.7,1111.3 1229.6,1114.1 1231.5,1116.8 1233.4,1119.6 1235.3,1122.3 1237.2,1125.0 1239.2,1127.7 1241.2,1130.4 1243.2,1133.0 1245.3,1135.7 1247.3,1138.3 1249.4,1140.9 1251.5,1143.5 1253.6,1146.0 1255.8,1148.5 1257.9,1151.0 1260.1,1153.5 1262.3,1156.0 1264.6,1158.4 1266.8,1160.8 1269.1,1163.2 1271.4,1165.5 1273.7,1167.8 1276.1,1170.1 1278.5,1172.4 1280.9,1174.6 1283.3,1176.8 1285.7,1179.0 1288.2,1181.1 1290.7,1183.2 1293.2,1185.3 1295.7,1187.3 1298.3,1189.3 1300.9,1191.3 1303.5,1193.2 1306.1,1195.1 1308.8,1197.0 1311.4,1198.8 1314.1,1200.6 1316.9,1202.4 1319.6,1204.1 1322.4,1205.8 1325.1,1207.5 1327.9,1209.1 1330.8,1210.7 1333.6,1212.3 1336.5,1213.8 1339.4,1215.3 1342.2,1216.8 1345.2,1218.2 1348.1,1219.6 1351.1,1221.0 1354.0,1222.4 1357.0,1223.7 1360.0,1225.0 1363.0,1226.3 1366.0,1227.5 1369.1,1228.8 1372.2,1230.0 1375.2,1231.1 1378.3,1232.3 1381.4,1233.4 1384.5,1234.5 1387.7,1235.5 1390.8,1236.6 1393.9,1237.6 1397.1,1238.6 1400.3,1239.6 1403.5,1240.5 1406.7,1241.5 1409.9,1242.4 1413.1,1243.2 1416.3,1244.1 1419.5,1245.0 1422.8,1245.8 1426.0,1246.6 1429.2,1247.4 1432.5,1248.1 1435.8,1248.9 1439.0,1249.6 1442.3,1250.3 1445.6,1251.0 1448.9,1251.7 1452.2,1252.4 1455.5,1253.0 1458.8,1253.6 1462.1,1254.2 1465.4,1254.8 1468.7,1255.4 1472.0,1256.0 1475.3,1256.5 1478.7,1257.1 1482.0,1257.6 1485.3,1258.1 1488.6,1258.6 1491.9,1259.1 1495.3,1259.6 1498.6,1260.0 1501.9,1260.5 1505.2,1260.9 1508.5,1261.4 1511.8,1261.8 1515.1,1262.2 1518.4,1262.6 1521.7,1263.0 1525.0,1263.4 1528.3,1263.8 1531.6,1264.1 1534.9,1264.5 1538.2,1264.8 1541.5,1265.2 1544.8,1265.5 1548.1,1265.8 1551.4,1266.2 1554.7,1266.5 1558.0,1266.8 1561.2,1267.1 1564.5,1267.4 1567.8,1267.6 1571.1,1267.9 1574.4,1268.2 1577.6,1268.5 1580.9,1268.7 1584.2,1269.0 1587.4,1269.2 1590.7,1269.5 1594.0,1269.7 1597.3,1269.9 1600.5,1270.2 1603.8,1270.4 1607.1,1270.6 1610.3,1270.8 1613.6,1271.1 1616.8,1271.3 1620.1,1271.5 1623.4,1271.7 1626.6,1271.9 1629.9,1272.1 1633.2,1272.3 1636.4,1272.5 1639.7,1272.6 1642.9,1272.8 1646.2,1273.0 1649.5,1273.2 1652.7,1273.4 1656.0,1273.6 1659.3,1273.7 1662.5,1273.9 1665.8,1274.1 1669.0,1274.3 1672.3,1274.5 1675.6,1274.6 1678.8,1274.8 1682.1,1275.0 1685.4,1275.2 1688.6,1275.3 1691.9,1275.5 1695.2,1275.7 1698.4,1275.9 1701.7,1276.1 1705.0,1276.3 1708.3,1276.4 1711.5,1276.6 1714.8,1276.8 1718.1,1277.0 1721.4,1277.2 1724.6,1277.4 1727.9,1277.6 1731.2,1277.8 1734.5,1278.0 1737.8,1278.2 1741.1,1278.4 1744.3,1278.7 1747.6,1278.9 1750.9,1279.1 1754.2,1279.3 1757.5,1279.6 1760.8,1279.8 1764.1,1280.1 1767.4,1280.3 1770.7,1280.6 1774.0,1280.8 1777.3,1281.1 1780.7,1281.4 1784.0,1281.7 1787.3,1281.9 1790.6,1282.2 1793.9,1282.5 1797.3,1282.8 1800.6,1283.2 1803.9,1283.5 1807.2,1283.8 1810.6,1284.2 1813.9,1284.5 1817.3,1284.8 1820.6,1285.2 1824.0,1285.6 1827.3,1286.0 1830.7,1286.3 1834.0,1286.7 1837.4,1287.2"/>
<path stroke="#00AC62" d="M280.9,1297.9 284.3,1297.8 287.7,1297.8 291.1,1297.7 294.5,1297.6 297.9,1297.5 301.2,1297.4 304.6,1297.3 308.0,1297.3 311.4,1297.2 314.8,1297.1 318.2,1297.0 321.6,1296.9 325.0,1296.9 328.4,1296.8 331.7,1296.7 335.1,1296.6 338.5,1296.5 341.9,1296.5 345.3,1296.4 348.6,1296.3 352.0,1296.2 355.4,1296.1 358.8,1296.0 362.1,1296.0 365.5,1295.9 368.9,1295.8 372.3,1295.7 375.6,1295.6 379.0,1295.5 382.4,1295.4 385.7,1295.3 389.1,1295.2 392.5,1295.1 395.8,1294.9 399.2,1294.8 402.5,1294.7 405.9,1294.6 409.3,1294.5 412.6,1294.3 416.0,1294.2 419.3,1294.1 422.7,1293.9 426.1,1293.8 429.4,1293.6 432.8,1293.5 436.1,1293.3 439.5,1293.1 442.8,1293.0 446.2,1292.8 449.6,1292.6 452.9,1292.4 456.3,1292.3 459.6,1292.1 463.0,1291.9 466.3,1291.6 469.7,1291.4 473.0,1291.2 476.4,1291.0 479.7,1290.8 483.1,1290.5 486.4,1290.3 489.8,1290.0 493.1,1289.8 496.5,1289.5 499.8,1289.2 503.2,1288.9 506.5,1288.7 509.9,1288.4 513.2,1288.1 516.6,1287.7 519.9,1287.4 523.3,1287.1 526.6,1286.8 530.0,1286.4 533.3,1286.1 536.7,1285.7 540.0,1285.3 543.4,1284.9 546.7,1284.5 550.1,1284.1 553.4,1283.7 556.8,1283.3 560.1,1282.9 563.5,1282.5 566.8,1282.0 570.2,1281.5 573.5,1281.1 576.9,1280.6 580.2,1280.1 583.6,1279.6 586.9,1279.1 590.3,1278.6 593.6,1278.0 597.0,1277.5 600.4,1276.9 603.7,1276.4 607.1,1275.8 610.4,1275.2 613.7,1274.6 617.1,1273.9 620.4,1273.3 623.8,1272.6 627.1,1271.9 630.4,1271.2 633.7,1270.5 637.0,1269.7 640.3,1269.0 643.6,1268.2 646.9,1267.4 650.2,1266.5 653.5,1265.7 656.7,1264.8 660.0,1263.8 663.2,1262.9 666.5,1261.9 669.7,1260.9 672.9,1259.9 676.1,1258.9 679.3,1257.8 682.4,1256.6 685.6,1255.5 688.7,1254.3 691.9,1253.1 695.0,1251.8 698.0,1250.6 701.1,1249.2 704.2,1247.9 707.2,1246.5 710.2,1245.0 713.2,1243.6 716.2,1242.1 719.2,1240.5 722.1,1238.9 725.0,1237.3 727.9,1235.6 730.8,1233.9 733.7,1232.1 736.5,1230.3 739.3,1228.5 742.1,1226.6 744.8,1224.7 747.6,1222.7 750.3,1220.7 753.0,1218.7 755.6,1216.6 758.2,1214.5 760.8,1212.4 763.4,1210.2 766.0,1208.0 768.5,1205.7 771.0,1203.4 773.4,1201.1 775.8,1198.8 778.2,1196.4 780.6,1194.0 782.9,1191.5 785.2,1189.0 787.5,1186.5 789.7,1184.0 791.9,1181.4 794.1,1178.9 796.2,1176.2 798.3,1173.6 800.4,1170.9 802.4,1168.2 804.4,1165.5 806.3,1162.8 808.2,1160.0 810.1,1157.2 811.9,1154.4 813.7,1151.5 815.5,1148.7 817.3,1145.8 819.0,1142.9 820.6,1140.0 822.3,1137.0 823.9,1134.1 825.5,1131.1 827.1,1128.1 828.6,1125.1 830.1,1122.1 831.6,1119.1 833.1,1116.0 834.5,1113.0 836.0,1109.9 837.4,1106.8 838.7,1103.7 840.1,1100.7 841.5,1097.6 842.8,1094.4 844.1,1091.3 845.4,1088.2 846.7,1085.1 848.0,1081.9 849.2,1078.8 850.5,1075.7 851.7,1072.5 853.0,1069.4 854.2,1066.2 855.4,1063.1 856.6,1059.9 857.8,1056.8 859.0,1053.6 860.1,1050.4 861.3,1047.3 862.4,1044.1 863.6,1040.9 864.7,1037.7 865.8,1034.6 866.9,1031.4 868.0,1028.2 869.1,1025.0 870.2,1021.8 871.3,1018.6 872.3,1015.4 873.4,1012.2 874.4,1009.0 875.5,1005.8 876.5,1002.6 877.5,999.4 878.5,996.2 879.5,993.0 880.5,989.8 881.5,986.6 882.5,983.4 883.5,980.2 884.5,976.9 885.4,973.7 886.4,970.5 887.3,967.3 888.3,964.0 889.2,960.8 890.1,957.6 891.1,954.3 892.0,951.1 892.9,947.8 893.8,944.6 894.7,941.4 895.6,938.1 896.5,934.9 897.4,931.6 898.3,928.4 899.1,925.1 900.0,921.9 900.9,918.6 901.7,915.3 902.6,912.1 903.4,908.8 904.3,905.6 905.1,902.3 906.0,899.0 906.8,895.8 907.6,892.5 908.5,889.2 909.3,886.0 910.1,882.7 910.9,879.4 911.7,876.2 912.5,872.9 913.3,869.6 914.2,866.3 915.0,863.1 915.8,859.8 916.6,856.5 917.4,853.2 918.2,849.9 918.9,846.7 919.7,843.4 920.5,840.1 921.3,836.8 922.1,833.5 922.9,830.2 923.7,826.9 924.5,823.7 925.2,820.4 926.0,817.1 926.8,813.8 927.6,810.5 928.4,807.2 929.2,803.9 929.9,800.6 930.7,797.3 931.5,794.1 932.3,790.8 933.1,787.5 933.9,784.2 934.7,780.9 935.5,777.6 936.4,774.4 937.2,771.1 938.0,767.8 938.9,764.6 939.7,761.3 940.6,758.0 941.5,754.8 942.4,751.5 943.3,748.3 944.2,745.0 945.1,741.8 946.1,738.6 947.1,735.4 948.0,732.2 949.0,729.0 950.1,725.8 951.1,722.6 952.2,719.4 953.3,716.2 954.4,713.0 955.6,709.9 956.8,706.8 958.0,703.6 959.3,700.5 960.6,697.4 962.0,694.3 963.4,691.2 964.8,688.2 966.3,685.1 967.7,682.0 969.0,678.9 970.1,675.7 971.1,672.5 972.0,669.3 972.7,666.0 973.3,662.7 973.8,659.4 974.2,656.1 974.5,652.7 974.7,649.3 974.9,645.9 975.1,642.5 975.2,639.1 975.3,635.6 975.4,632.2 975.5,628.8 975.7,625.4 975.8,622.0 976.0,618.7 976.2,615.3 976.5,611.9 976.7,608.6 977.0,605.2 977.2,601.9 977.5,598.5 977.7,595.2 978.0,591.8 978.3,588.5 978.5,585.2 978.8,581.8 979.0,578.5 979.3,575.1 979.5,571.8 979.7,568.4 979.9,565.1 980.2,561.7 980.4,558.4 980.6,555.0 980.7,551.7 980.9,548.3 981.1,545.0 981.3,541.6 981.5,538.3 981.6,534.9 981.8,531.5 982.0,528.2 982.1,524.8 982.3,521.4 982.4,518.1 982.6,514.7 982.7,511.3 982.9,508.0 983.0,504.6 983.2,501.2 983.3,497.9 983.5,494.5 983.6,491.1 983.8,487.8 983.9,484.4 984.0,481.0 984.2,477.6 984.3,474.3 984.5,470.9 984.6,467.5 984.8,464.1 984.9,460.8 985.1,457.4 985.3,454.0 985.4,450.6 985.6,447.3 985.8,443.9 985.9,440.5 986.1,437.1 986.3,433.8 986.5,430.4 986.7,427.0 986.9,423.6 987.1,420.3 987.3,416.9 987.5,413.5 987.8,410.1 988.0,406.8 988.3,403.4 988.5,400.0 988.8,396.6 989.1,393.3 989.3,389.9 989.6,386.5 989.9,383.2 990.3,379.8 990.6,376.4 990.9,373.1 991.3,369.7 991.7,366.4 992.1,363.0 992.5,359.7 992.9,356.4 993.4,353.0 993.8,349.7 994.3,346.4 994.8,343.0 995.3,339.7 995.9,336.4 996.4,333.1 997.0,329.8 997.6,326.5 998.3,323.2 998.9,319.9 999.6,316.7 1000.3,313.4 1001.0,310.1 1001.8,306.9 1002.5,303.6 1003.3,300.4 1004.2,297.2 1005.0,293.9 1005.9,290.7 1006.9,287.4 1007.9,284.1 1008.9,280.8 1010.0,277.4 1011.2,274.1 1012.7,271.0 1014.6,268.2 1017.0,265.8 1019.9,264.1 1023.2,263.3 1026.3,263.9 1029.1,265.6 1031.6,268.1 1033.8,271.0 1035.5,274.0 1036.9,277.0 1038.1,280.2 1039.3,283.4 1040.3,286.6 1041.3,289.9 1042.2,293.2 1043.1,296.6 1043.9,299.9 1044.7,303.2 1045.5,306.5 1046.3,309.8 1047.0,313.1 1047.7,316.3 1048.4,319.6 1049.1,322.9 1049.7,326.1 1050.3,329.4 1050.9,332.7 1051.5,335.9 1052.1,339.2 1052.7,342.4 1053.3,345.7 1053.8,348.9 1054.4,352.2 1054.9,355.4 1055.4,358.7 1056.0,362.0 1056.5,365.3 1057.0,368.6 1057.5,371.9 1058.1,375.2 1058.6,378.5 1059.1,381.8 1059.7,385.2 1060.2,388.5 1060.7,391.9 1061.3,395.2 1061.8,398.6 1062.3,401.9 1062.8,405.3 1063.4,408.7 1063.9,412.1 1064.4,415.5 1065.0,418.8 1065.5,422.2 1066.0,425.6 1066.6,429.0 1067.1,432.4 1067.6,435.8 1068.1,439.2 1068.7,442.6 1069.2,446.0 1069.7,449.3 1070.2,452.7 1070.7,456.1 1071.2,459.5 1071.7,462.8 1072.3,466.2 1072.8,469.6 1073.3,473.0 1073.8,476.3 1074.3,479.7 1074.8,483.0 1075.3,486.4 1075.8,489.8 1076.3,493.1 1076.8,496.5 1077.3,499.8 1077.8,503.2 1078.3,506.5 1078.8,509.9 1079.3,513.2 1079.8,516.5 1080.3,519.9 1080.8,523.2 1081.3,526.5 1081.7,529.9 1082.2,533.2 1082.7,536.5 1083.2,539.9 1083.7,543.2 1084.2,546.5 1084.7,549.8 1085.2,553.2 1085.7,556.5 1086.2,559.8 1086.7,563.1 1087.2,566.4 1087.7,569.7 1088.2,573.1 1088.7,576.4 1089.2,579.7 1089.7,583.0 1090.2,586.3 1090.7,589.6 1091.2,592.9 1091.7,596.2 1092.2,599.5 1092.7,602.8 1093.2,606.1 1093.7,609.4 1094.2,612.7 1094.7,616.0 1095.2,619.3 1095.7,622.6 1096.2,625.9 1096.7,629.2 1097.3,632.5 1097.8,635.8 1098.3,639.1 1098.8,642.3 1099.3,645.6 1099.9,648.9 1100.4,652.2 1100.9,655.5 1101.5,658.8 1102.0,662.1 1102.5,665.4 1103.1,668.7 1103.6,671.9 1104.2,675.2 1104.7,678.5 1105.3,681.8 1105.8,685.1 1106.4,688.4 1106.9,691.6 1107.5,694.9 1108.1,698.2 1108.6,701.5 1109.2,704.8 1109.8,708.1 1110.3,711.4 1110.9,714.6 1111.5,717.9 1112.1,721.2 1112.7,724.5 1113.3,727.8 1113.9,731.1 1114.5,734.3 1115.1,737.6 1115.7,740.9 1116.3,744.2 1116.9,747.5 1117.6,750.8 1118.2,754.1 1118.8,757.3 1119.5,760.6 1120.1,763.9 1120.7,767.2 1121.4,770.5 1122.0,773.8 1122.7,777.1 1123.4,780.4 1124.0,783.6 1124.7,786.9 1125.4,790.2 1126.0,793.5 1126.7,796.8 1127.4,800.1 1128.1,803.4 1128.8,806.7 1129.5,810.0 1130.2,813.3 1131.0,816.6 1131.7,819.9 1132.4,823.2 1133.1,826.5 1133.9,829.8 1134.6,833.1 1135.4,836.4 1136.1,839.7 1136.9,843.0 1137.7,846.3 1138.4,849.7 1139.2,853.0 1140.0,856.3 1140.8,859.6 1141.6,862.9 1142.4,866.2 1143.2,869.6 1144.0,872.9 1144.8,876.2 1145.7,879.5 1146.5,882.9 1147.4,886.2 1148.2,889.5 1149.1,892.8 1149.9,896.2 1150.8,899.5 1151.7,902.8 1152.6,906.2 1153.5,909.5 1154.4,912.9 1155.3,916.2 1156.2,919.5 1157.1,922.9 1158.1,926.2 1159.0,929.6 1159.9,932.9 1160.9,936.2 1161.9,939.6 1162.9,942.9 1163.9,946.2 1164.9,949.6 1165.9,952.9 1166.9,956.2 1167.9,959.5 1169.0,962.8 1170.0,966.1 1171.1,969.4 1172.2,972.7 1173.3,976.0 1174.4,979.3 1175.5,982.6 1176.6,985.9 1177.8,989.1 1178.9,992.4 1180.1,995.7 1181.3,998.9 1182.5,1002.1 1183.7,1005.4 1184.9,1008.6 1186.1,1011.8 1187.4,1015.0 1188.7,1018.2 1190.0,1021.4 1191.3,1024.6 1192.6,1027.7 1193.9,1030.9 1195.3,1034.0 1196.6,1037.1 1198.0,1040.2 1199.4,1043.3 1200.8,1046.4 1202.3,1049.5 1203.7,1052.6 1205.2,1055.6 1206.7,1058.7 1208.2,1061.7 1209.7,1064.7 1211.2,1067.7 1212.8,1070.7 1214.4,1073.6 1216.0,1076.6 1217.6,1079.5 1219.2,1082.4 1220.9,1085.3 1222.6,1088.2 1224.3,1091.0 1226.0,1093.9 1227.8,1096.7 1229.5,1099.5 1231.3,1102.3 1233.1,1105.1 1234.9,1107.8 1236.8,1110.5 1238.7,1113.2 1240.6,1115.9 1242.5,1118.6 1244.4,1121.2 1246.4,1123.9 1248.4,1126.5 1250.4,1129.0 1252.4,1131.6 1254.5,1134.1 1256.6,1136.6 1258.7,1139.1 1260.8,1141.6 1263.0,1144.0 1265.2,1146.4 1267.4,1148.8 1269.6,1151.2 1271.9,1153.5 1274.2,1155.8 1276.5,1158.1 1278.9,1160.4 1281.2,1162.6 1283.6,1164.8 1286.1,1167.0 1288.5,1169.1 1291.0,1171.3 1293.5,1173.4 1296.0,1175.4 1298.6,1177.5 1301.2,1179.5 1303.8,1181.5 1306.5,1183.4 1309.1,1185.3 1311.8,1187.2 1314.5,1189.1 1317.3,1191.0 1320.0,1192.8 1322.8,1194.6 1325.6,1196.3 1328.5,1198.1 1331.3,1199.8 1334.2,1201.5 1337.1,1203.1 1340.0,1204.8 1342.9,1206.4 1345.9,1208.0 1348.9,1209.5 1351.9,1211.1 1354.9,1212.6 1357.9,1214.1 1361.0,1215.5 1364.0,1217.0 1367.1,1218.4 1370.2,1219.8 1373.3,1221.1 1376.4,1222.5 1379.6,1223.8 1382.7,1225.1 1385.9,1226.4 1389.1,1227.6 1392.3,1228.9 1395.5,1230.1 1398.7,1231.2 1402.0,1232.4 1405.2,1233.5 1408.5,1234.7 1411.7,1235.8 1415.0,1236.8 1418.3,1237.9 1421.6,1238.9 1424.9,1239.9 1428.2,1240.9 1431.5,1241.9 1434.8,1242.8 1438.2,1243.7 1441.5,1244.6 1444.8,1245.5 1448.2,1246.4 1451.6,1247.2 1454.9,1248.0 1458.3,1248.9 1461.6,1249.6 1465.0,1250.4 1468.4,1251.1 1471.8,1251.9 1475.2,1252.6 1478.5,1253.3 1481.9,1253.9 1485.3,1254.6 1488.7,1255.2 1492.1,1255.8 1495.4,1256.4 1498.8,1257.0 1502.2,1257.6 1505.6,1258.1 1509.0,1258.7 1512.3,1259.2 1515.7,1259.7 1519.1,1260.1 1522.4,1260.6 1525.8,1261.0 1529.2,1261.5 1532.5,1261.9 1535.9,1262.3 1539.2,1262.7 1542.6,1263.0 1545.9,1263.4 1549.3,1263.7 1552.6,1264.1 1556.0,1264.4 1559.3,1264.7 1562.7,1265.0 1566.0,1265.3 1569.3,1265.6 1572.7,1265.8 1576.0,1266.1 1579.3,1266.3 1582.7,1266.6 1586.0,1266.8 1589.3,1267.0 1592.6,1267.2 1596.0,1267.4 1599.3,1267.6 1602.6,1267.8 1605.9,1268.0 1609.3,1268.2 1612.6,1268.4 1615.9,1268.5 1619.2,1268.7 1622.5,1268.8 1625.9,1269.0 1629.2,1269.1 1632.5,1269.3 1635.8,1269.4 1639.1,1269.6 1642.5,1269.7 1645.8,1269.8 1649.1,1270.0 1652.4,1270.1 1655.7,1270.2 1659.1,1270.4 1662.4,1270.5 1665.7,1270.6 1669.0,1270.7 1672.4,1270.9 1675.7,1271.0 1679.0,1271.1 1682.3,1271.3 1685.7,1271.4 1689.0,1271.6 1692.3,1271.7 1695.6,1271.9 1699.0,1272.0 1702.3,1272.2 1705.6,1272.3 1709.0,1272.5 1712.3,1272.7 1715.6,1272.9 1719.0,1273.0 1722.3,1273.2 1725.7,1273.4 1729.0,1273.6 1732.4,1273.9 1735.7,1274.1 1739.1,1274.3 1742.4,1274.5 1745.8,1274.8 1749.1,1275.1 1752.5,1275.3 1755.8,1275.6 1759.2,1275.9 1762.6,1276.2 1765.9,1276.5 1769.3,1276.8 1772.7,1277.2 1776.1,1277.5 1779.4,1277.9 1782.8,1278.3 1786.2,1278.7 1789.6,1279.1 1793.0,1279.5 1796.4,1279.9 1799.8,1280.4 1803.2,1280.8 1806.6,1281.3 1810.0,1281.8 1813.4,1282.4 1816.9,1282.9 1820.3,1283.4 1823.7,1284.0 1827.1,1284.6 1830.6,1285.2 1834.0,1285.8 1837.5,1286.5"/>
</g>
<path d="M275.8,142.6H1837.7M275.8,1397.8H1837.7" stroke="#000" stroke-width="5.6" fill="none"/>
<path d="M278.2,139.8V1400.6M1835.3,139.8V1400.6" stroke="#000" stroke-width="4.8" fill="none"/>
<path d="M278.2,1397.8V1422.4M723.1,1397.8V1422.4M1168.0,1397.8V1422.4M1612.9,1397.8V1422.4M500.6,1397.8V1409.6M945.5,1397.8V1409.6M1390.4,1397.8V1409.6M1835.3,1397.8V1409.6M278.2,1314.1H253.2M278.2,979.4H253.2M278.2,644.7H253.2M278.2,310.0H253.2M278.2,1146.8H265.2M278.2,812.0H265.2M278.2,477.3H265.2M278.2,142.6H265.2" stroke="#000" stroke-width="5.2" fill="none"/>
<text transform="translate(277.7,1480.9) scale(0.955,1)" font-family="Liberation Sans, sans-serif" font-weight="bold" font-size="55.2" text-anchor="middle">200</text>
<text transform="translate(722.6,1480.9) scale(0.955,1)" font-family="Liberation Sans, sans-serif" font-weight="bold" font-size="55.2" text-anchor="middle">300</text>
<text transform="translate(1167.5,1480.9) scale(0.955,1)" font-family="Liberation Sans, sans-serif" font-weight="bold" font-size="55.2" text-anchor="middle">400</text>
<text transform="translate(1612.4,1480.9) scale(0.955,1)" font-family="Liberation Sans, sans-serif" font-weight="bold" font-size="55.2" text-anchor="middle">500</text>
<text transform="translate(236.2,1329.7) scale(0.955,1)" font-family="Liberation Sans, sans-serif" font-weight="bold" font-size="55.2" text-anchor="end">0</text>
<text transform="translate(236.2,995.0) scale(0.955,1)" font-family="Liberation Sans, sans-serif" font-weight="bold" font-size="55.2" text-anchor="end">20</text>
<text transform="translate(236.2,660.3) scale(0.955,1)" font-family="Liberation Sans, sans-serif" font-weight="bold" font-size="55.2" text-anchor="end">40</text>
<text transform="translate(236.2,325.6) scale(0.955,1)" font-family="Liberation Sans, sans-serif" font-weight="bold" font-size="55.2" text-anchor="end">60</text>
<rect x="292.9" y="154.5" width="612.6" height="299.8" fill="#fff" stroke="#000" stroke-width="2.4"/>
<text transform="translate(299.85,204.4) scale(0.966,1)" font-family="Liberation Sans, sans-serif" font-weight="bold" font-size="48.8" fill="#0000A8">Nano-biodiesel fuel blends</text>
<rect x="298.9" y="209.4" width="601.2" height="5.4" fill="#0000A8"/>
<path d="M298.8,246.5H405.1" stroke="#777777" stroke-width="6.8" stroke-linecap="round"/>
<text transform="translate(418.1,262.7) scale(0.97,1)" font-family="Liberation Sans, sans-serif" font-size="48.7">B10D90A5</text>
<path d="M298.8,305.4H405.1" stroke="#FF3B3B" stroke-width="6.8" stroke-linecap="round"/>
<text transform="translate(418.1,320.9) scale(0.97,1)" font-family="Liberation Sans, sans-serif" font-size="48.7">B20D80A10</text>
<path d="M298.8,363.2H405.1" stroke="#006EE6" stroke-width="6.8" stroke-linecap="round"/>
<text transform="translate(418.1,379.2) scale(0.97,1)" font-family="Liberation Sans, sans-serif" font-size="48.7">B30D70A15</text>
<path d="M298.8,421.3H405.1" stroke="#00AC62" stroke-width="6.8" stroke-linecap="round"/>
<text transform="translate(418.1,437.4) scale(0.97,1)" font-family="Liberation Sans, sans-serif" font-size="48.7">B40D60A20</text>
<rect x="349.8" y="300.6" width="4.6" height="2.4" fill="#FF3B3B"/>
<path d="M349.6,360.4L352.2,357.9L354.8,360.4Z" fill="#006EE6"/>
<path d="M349.4,424.2L352.2,427L355,424.2Z" fill="#00AC62"/>
<rect x="1162.5" y="168.4" width="623.6" height="269" fill="#fff" stroke="#000" stroke-width="2.6"/>
<text transform="translate(1179.96,213.9) scale(0.957,1)" font-family="Noto Sans CJK JP, Liberation Sans, sans-serif" font-weight="bold" font-size="36.5">Nozzle Geometry :</text>
<text transform="translate(1504.97,213.6) scale(1.023,1)" font-family="Noto Sans CJK JP, Liberation Sans, sans-serif" font-weight="300" font-size="35.9">4 Hole, 0.25 mm</text>
<text transform="translate(1179.65,265.4) scale(0.990,1)" font-family="Noto Sans CJK JP, Liberation Sans, sans-serif" font-weight="bold" font-size="36.5">IT</text>
<text transform="translate(1255.17,265.4) scale(0.990,1)" font-family="Noto Sans CJK JP, Liberation Sans, sans-serif" font-weight="bold" font-size="36.5">:</text>
<text transform="translate(1277.35,265.4) scale(1.067,1)" font-family="Noto Sans CJK JP, Liberation Sans, sans-serif" font-weight="300" font-size="35.9">19°bTDC</text>
<text transform="translate(1179.67,315.7) scale(0.983,1)" font-family="Noto Sans CJK JP, Liberation Sans, sans-serif" font-weight="bold" font-size="36.5">IOP</text>
<text transform="translate(1253.37,315.7) scale(0.990,1)" font-family="Noto Sans CJK JP, Liberation Sans, sans-serif" font-weight="bold" font-size="36.5">:</text>
<text transform="translate(1275.14,315.7) scale(1.084,1)" font-family="Noto Sans CJK JP, Liberation Sans, sans-serif" font-weight="300" font-size="35.9">260 bar (FOME)</text>
<text transform="translate(1179.67,365.6) scale(0.983,1)" font-family="Noto Sans CJK JP, Liberation Sans, sans-serif" font-weight="bold" font-size="36.5">IOP</text>
<text transform="translate(1252.67,365.6) scale(0.990,1)" font-family="Noto Sans CJK JP, Liberation Sans, sans-serif" font-weight="bold" font-size="36.5">:</text>
<text transform="translate(1274.97,365.6) scale(1.064,1)" font-family="Noto Sans CJK JP, Liberation Sans, sans-serif" font-weight="300" font-size="35.9">205 bar (Diesel)</text>
<text transform="translate(1180.46,416.8) scale(1.009,1)" font-family="Noto Sans CJK JP, Liberation Sans, sans-serif" font-weight="bold" font-size="36.5">CR</text>
<text transform="translate(1250.77,416.8) scale(0.990,1)" font-family="Noto Sans CJK JP, Liberation Sans, sans-serif" font-weight="bold" font-size="36.5">:</text>
<text transform="translate(1271.69,416.8) scale(1.055,1)" font-family="Noto Sans CJK JP, Liberation Sans, sans-serif" font-weight="300" font-size="35.9">17.5: 1</text>
<text transform="translate(763.54,1565.5) scale(1.030,1)" font-family="Liberation Serif, serif" font-weight="bold" font-size="67.2" fill="#0000FF">Crank</text>
<text transform="translate(973.66,1565.5) scale(1.099,1)" font-family="Liberation Serif, serif" font-weight="bold" font-size="67.2" fill="#0000FF">Angle</text>
<text transform="translate(1175.40,1564.0) scale(0.94,1)" font-family="Liberation Serif, serif" font-weight="bold" font-size="66.6">(</text>
<text transform="translate(1196.19,1565.3) scale(1.018,1)" font-family="Liberation Serif, serif" font-weight="bold" font-size="61.2" fill="#0000FF">°CA</text>
<text transform="translate(1311.84,1564.0) scale(0.94,1)" font-family="Liberation Serif, serif" font-weight="bold" font-size="66.6">)</text>
<text transform="translate(103.70,1027.38) rotate(-90) scale(0.957,1)" font-family="Liberation Serif, serif" font-weight="bold" font-size="66.7" fill="#0000FF">PRESSURE</text>
<text transform="translate(102.61,677.26) rotate(-90) scale(0.909,1)" font-family="Liberation Serif, serif" font-weight="bold" font-size="73.2" fill="#000">(</text>
<text transform="translate(103.70,653.49) rotate(-90) scale(1.022,1)" font-family="Liberation Serif, serif" font-weight="bold" font-size="67.4" fill="#0000FF">bar</text>
<text transform="translate(102.61,548.53) rotate(-90) scale(0.877,1)" font-family="Liberation Serif, serif" font-weight="bold" font-size="73.2" fill="#000">)</text>
</svg>
</body></html>
